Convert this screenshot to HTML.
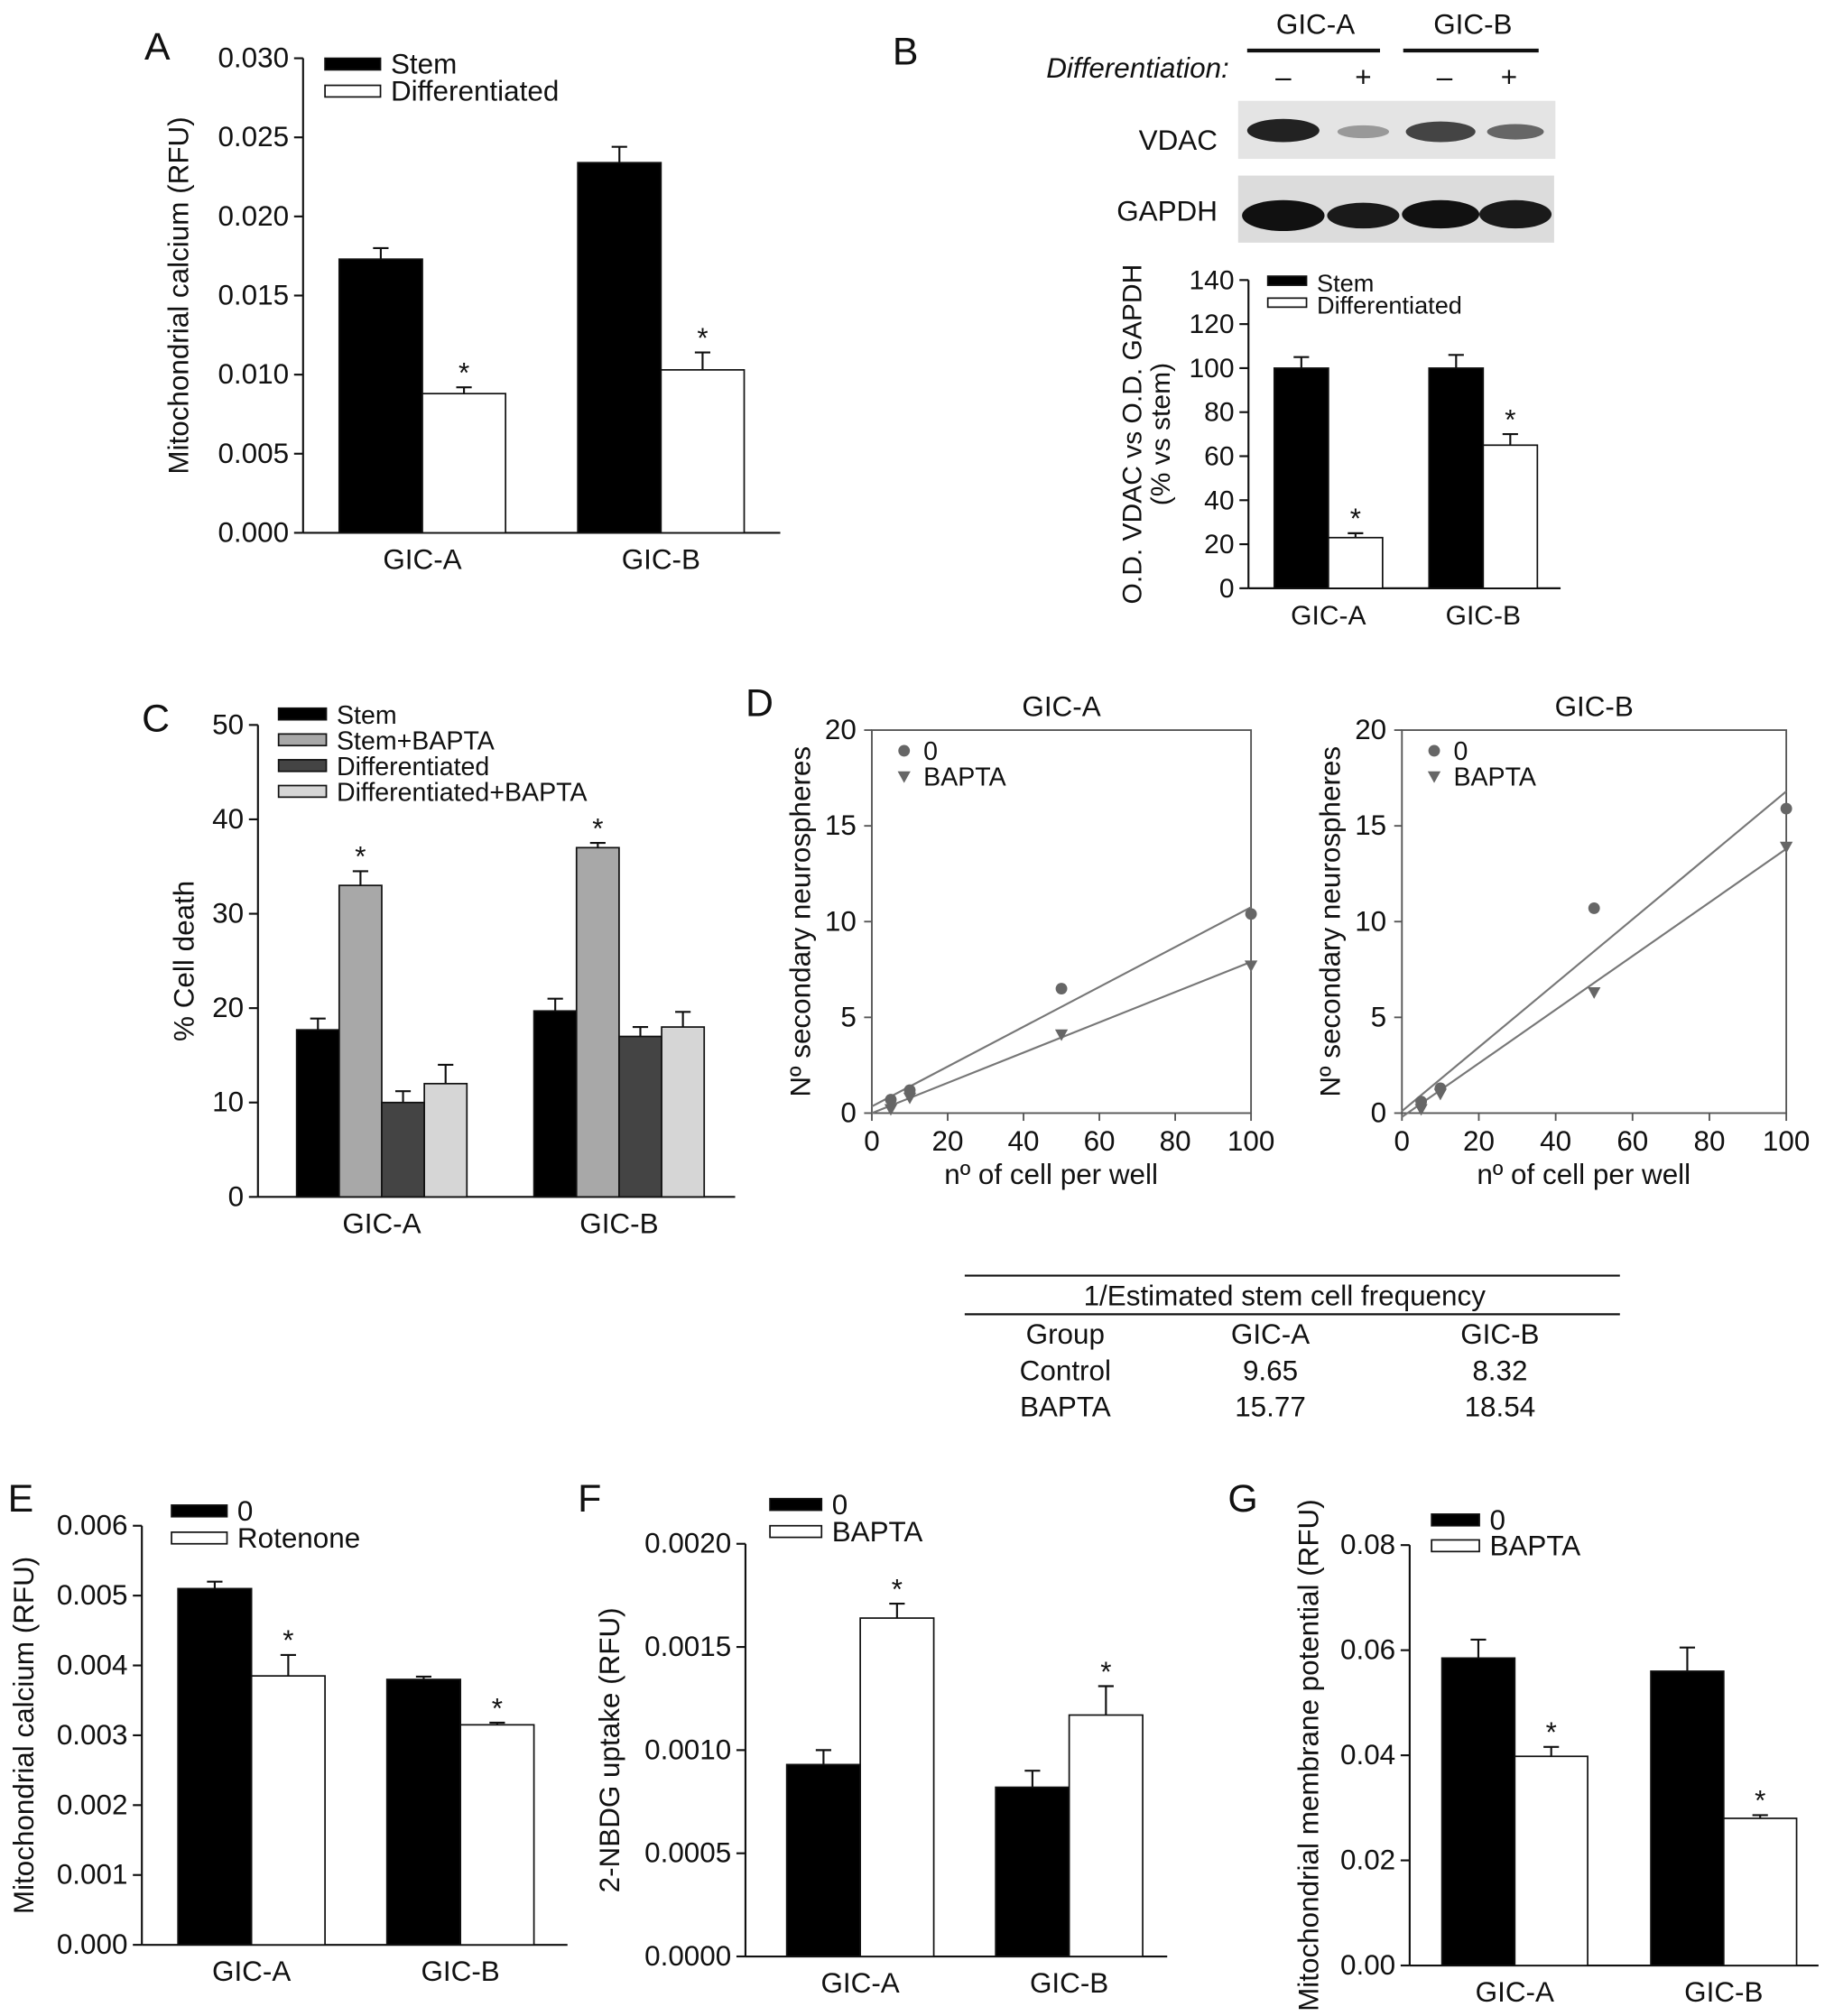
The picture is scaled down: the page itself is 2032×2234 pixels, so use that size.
<!DOCTYPE html>
<html><head><meta charset="utf-8"><style>
html,body{margin:0;padding:0;background:#fff}
svg{display:block;font-family:"Liberation Sans",Arial,sans-serif}
</style></head><body>
<svg id="fig" width="2032" height="2234" viewBox="0 0 1422 1563" xmlns="http://www.w3.org/2000/svg">
<g id="static" font-size="22" fill="#111">
<text x="112" y="46" font-size="30">A</text>
<text x="692" y="50" font-size="30">B</text>
<text x="110" y="567" font-size="30">C</text>
<text x="578" y="555" font-size="30">D</text>
<text x="6" y="1172" font-size="30">E</text>
<text x="448" y="1172" font-size="30">F</text>
<text x="952" y="1172" font-size="30">G</text>
<text x="1020" y="26" text-anchor="middle">GIC-A</text>
<line x1="967" y1="39" x2="1070" y2="39" stroke="#111" stroke-width="3"/>
<text x="1142" y="26" text-anchor="middle">GIC-B</text>
<line x1="1088" y1="39" x2="1193" y2="39" stroke="#111" stroke-width="3"/>
<text x="953" y="60" text-anchor="end" font-style="italic">Differentiation:</text>
<text x="995" y="67" text-anchor="middle">–</text>
<text x="1057" y="67" text-anchor="middle">+</text>
<text x="1120" y="67" text-anchor="middle">–</text>
<text x="1170" y="67" text-anchor="middle">+</text>
<text x="944" y="116" text-anchor="end">VDAC</text>
<text x="944" y="171" text-anchor="end">GAPDH</text>
<rect x="960" y="78" width="246" height="45" fill="#e4e4e4"/>
<rect x="960" y="136" width="245" height="52" fill="#dcdcdc"/>
<ellipse cx="995" cy="101" rx="28" ry="9" fill="#222"/>
<ellipse cx="1057" cy="102" rx="20" ry="5" fill="#999"/>
<ellipse cx="1117" cy="102" rx="27" ry="8" fill="#444"/>
<ellipse cx="1175" cy="102" rx="22" ry="6" fill="#666"/>
<ellipse cx="995" cy="167" rx="32" ry="12" fill="#111"/>
<ellipse cx="1057" cy="167" rx="28" ry="10" fill="#1a1a1a"/>
<ellipse cx="1117" cy="166" rx="30" ry="11" fill="#111"/>
<ellipse cx="1175" cy="166" rx="28" ry="11" fill="#1a1a1a"/>
<line x1="748" y1="989" x2="1256" y2="989" stroke="#111" stroke-width="1.5"/>
<line x1="748" y1="1019" x2="1256" y2="1019" stroke="#111" stroke-width="1.5"/>
<text x="996" y="1012" text-anchor="middle">1/Estimated stem cell frequency</text>
<text x="826" y="1042" text-anchor="middle">Group</text>
<text x="985" y="1042" text-anchor="middle">GIC-A</text>
<text x="1163" y="1042" text-anchor="middle">GIC-B</text>
<text x="826" y="1070" text-anchor="middle">Control</text>
<text x="985" y="1070" text-anchor="middle">9.65</text>
<text x="1163" y="1070" text-anchor="middle">8.32</text>
<text x="826" y="1098" text-anchor="middle">BAPTA</text>
<text x="985" y="1098" text-anchor="middle">15.77</text>
<text x="1163" y="1098" text-anchor="middle">18.54</text>
</g>
<g id="charts"></g>
</svg>
<script>
// Panel A
const aCats=["GIC-A","GIC-B"];
const aStem=[0.0173,0.0234];
const aDiff=[0.0088,0.0103];
const aStemErr=[0.0007,0.0010];
const aDiffErr=[0.0004,0.0011];
const aTicks=["0.000","0.005","0.010","0.015","0.020","0.025","0.030"];
// Panel B
const bCats=["GIC-A","GIC-B"];
const bStem=[100,100];
const bDiff=[23,65];
const bStemErr=[5,6];
const bDiffErr=[2,5];
const bTicks=["0","20","40","60","80","100","120","140"];
// Panel C
const cCats=["GIC-A","GIC-B"];
const cStem=[17.7,19.7];
const cStemB=[33,37];
const cDiff=[10,17];
const cDiffB=[12,18];
const cStemErr=[1.2,1.3];
const cStemBErr=[1.5,0.5];
const cDiffErr=[1.2,1.0];
const cDiffBErr=[2.0,1.6];
const cTicks=["0","10","20","30","40","50"];
// Panel D
const dX=[5,10,50,100];
const dA0=[0.7,1.2,6.5,10.4];
const dAB=[0.2,0.8,4.1,7.7];
const dB0=[0.6,1.3,10.7,15.9];
const dBB=[0.2,1.0,6.3,13.9];
const dAFit0=[0.35,10.75];
const dAFitB=[0.0,7.9];
const dBFit0=[0.1,16.8];
const dBFitB=[-0.2,13.8];
const dXTicks=["0","20","40","60","80","100"];
const dYTicks=["0","5","10","15","20"];
// Panel E
const eCats=["GIC-A","GIC-B"];
const eCtl=[0.0051,0.0038];
const eRot=[0.00385,0.00315];
const eCtlErr=[0.0001,0.00004];
const eRotErr=[0.0003,0.00003];
const eTicks=["0.000","0.001","0.002","0.003","0.004","0.005","0.006"];
// Panel F
const fCats=["GIC-A","GIC-B"];
const fCtl=[0.00093,0.00082];
const fBap=[0.00164,0.00117];
const fCtlErr=[0.00007,0.00008];
const fBapErr=[0.00007,0.00014];
const fTicks=["0.0000","0.0005","0.0010","0.0015","0.0020"];
// Panel G
const gCats=["GIC-A","GIC-B"];
const gCtl=[0.0585,0.056];
const gBap=[0.0398,0.028];
const gCtlErr=[0.0035,0.0045];
const gBapErr=[0.0018,0.0006];
const gTicks=["0.00","0.02","0.04","0.06","0.08"];

const NS="http://www.w3.org/2000/svg";
const root=document.getElementById('charts');
function mk(tag,attrs,parent,txt){const e=document.createElementNS(NS,tag);for(const k in attrs)e.setAttribute(k,attrs[k]);if(txt!==undefined)e.textContent=txt;(parent||root).appendChild(e);return e;}

function barChart(o){
  const g=mk('g',{});
  
  
  const ymax=parseFloat(o.ticks[o.ticks.length-1]);
  const y=v=>o.y0-(v/ymax)*(o.y0-o.y1);
  const fs=o.fs||22;
  const lfs=o.lfs||fs;
  const ax=mk('line',{x1:o.x0,y1:o.y1,x2:o.x0,y2:o.y0,stroke:'#111','stroke-width':1.5},g);
  
  
  const bx=mk('line',{x1:o.x0,y1:o.y0,x2:o.xEnd,y2:o.y0,stroke:'#111','stroke-width':1.5},g);
  
  
  o.ticks.forEach(t=>{
    const v=parseFloat(t),yy=y(v);
    const tl=mk('line',{x1:o.x0-7,y1:yy,x2:o.x0,y2:yy,stroke:'#111','stroke-width':1.5},g);
    
    
    const tt=mk('text',{x:o.x0-11,y:yy+7,'text-anchor':'end','font-size':fs,fill:'#111'},g,t);
    
    
  });
  o.cats.forEach((c,i)=>{
    const gx=o.groupX[i];
    o.series.forEach((s,j)=>{
      const x=gx+j*o.bw,v=s.vals[i],top=y(v);
      const r=mk('rect',{x:x,y:top,width:o.bw,height:o.y0-top,fill:s.fill,stroke:'#111','stroke-width':1.2},g);
      
      
      const et=y(v+s.err[i]),cx=x+o.bw/2;
      const e1=mk('path',{d:`M${cx},${top}V${et}M${cx-6},${et}H${cx+6}`,stroke:'#111','stroke-width':1.5,fill:'none'},g);
      
      
      if(s.star&&s.star[i]){
        const st=mk('text',{x:cx,y:et-4,'text-anchor':'middle','font-size':22,fill:'#111'},g,'*');
        
        
      }
    });
    const lx=gx+o.series.length*o.bw/2;
    const lt=mk('text',{x:lx,y:o.y0+28,'text-anchor':'middle','font-size':fs,fill:'#111'},g,c);
    
    
  });
  o.ytitle.forEach((t,k)=>{
    const tx=o.ytx+k*22,ty=(o.y0+o.y1)/2;
    const yt=mk('text',{x:tx,y:ty,'text-anchor':'middle','font-size':fs,fill:'#111',transform:`rotate(-90 ${tx} ${ty})`},g,t);
    
    
  });
  o.series.forEach((s,j)=>{
    const ly=o.legY+j*o.legDy;
    const lr=mk('rect',{x:o.legX,y:ly-5,width:o.legW,height:o.legH||9,fill:s.fill,stroke:'#111','stroke-width':1.2},g);
    
    
    const lt=mk('text',{x:o.legX+o.legW+8,y:ly+7,'font-size':lfs,fill:'#111'},g,s.label);
    
    
  });
}

barChart({name:'chart-a',x0:235,xEnd:605,y0:413,y1:45,ticks:aTicks,cats:aCats,groupX:[263,448],bw:64.5,
  series:[{key:'stem',label:'Stem',fill:'#000',vals:aStem,err:aStemErr},{key:'differentiated',label:'Differentiated',fill:'#fff',vals:aDiff,err:aDiffErr,star:[1,1]}],
  ytitle:['Mitochondrial calcium (RFU)'],ytx:146,legX:252,legY:50,legDy:21,legW:43});
barChart({name:'chart-b',x0:968,xEnd:1210,y0:456,y1:217,ticks:bTicks,cats:bCats,groupX:[988,1108],bw:42,fs:21,lfs:19,
  series:[{key:'stem',label:'Stem',fill:'#000',vals:bStem,err:bStemErr},{key:'differentiated',label:'Differentiated',fill:'#fff',vals:bDiff,err:bDiffErr,star:[1,1]}],
  ytitle:['O.D. VDAC vs O.D. GAPDH','(% vs stem)'],ytx:885,legX:983,legY:219,legDy:17,legW:30,legH:7});
barChart({name:'chart-c',x0:200,xEnd:570,y0:928,y1:562,ticks:cTicks,cats:cCats,groupX:[230,414],bw:33,lfs:20,
  series:[{key:'stem',label:'Stem',fill:'#000',vals:cStem,err:cStemErr},
  {key:'stem-bapta',label:'Stem+BAPTA',fill:'#a8a8a8',vals:cStemB,err:cStemBErr,star:[1,1]},
  {key:'differentiated',label:'Differentiated',fill:'#444',vals:cDiff,err:cDiffErr},
  {key:'differentiated-bapta',label:'Differentiated+BAPTA',fill:'#d6d6d6',vals:cDiffB,err:cDiffBErr}],
  ytitle:['% Cell death'],ytx:150,legX:216,legY:554,legDy:20,legW:37});
barChart({name:'chart-e',x0:110,xEnd:440,y0:1508,y1:1183,ticks:eTicks,cats:eCats,groupX:[138,300],bw:57,
  series:[{key:'control',label:'0',fill:'#000',vals:eCtl,err:eCtlErr},{key:'rotenone',label:'Rotenone',fill:'#fff',vals:eRot,err:eRotErr,star:[1,1]}],
  ytitle:['Mitochondrial calcium (RFU)'],ytx:26,legX:133,legY:1172,legDy:21,legW:43});
barChart({name:'chart-f',x0:578,xEnd:905,y0:1517,y1:1197,ticks:fTicks,cats:fCats,groupX:[610,772],bw:57,
  series:[{key:'control',label:'0',fill:'#000',vals:fCtl,err:fCtlErr},{key:'bapta',label:'BAPTA',fill:'#fff',vals:fBap,err:fBapErr,star:[1,1]}],
  ytitle:['2-NBDG uptake (RFU)'],ytx:480,legX:597,legY:1167,legDy:21,legW:40});
barChart({name:'chart-g',x0:1093,xEnd:1410,y0:1524,y1:1198,ticks:gTicks,cats:gCats,groupX:[1118,1280],bw:56.5,
  series:[{key:'control',label:'0',fill:'#000',vals:gCtl,err:gCtlErr},{key:'bapta',label:'BAPTA',fill:'#fff',vals:gBap,err:gBapErr,star:[1,1]}],
  ytitle:['Mitochondrial membrane potential (RFU)'],ytx:1022,legX:1110,legY:1179,legDy:20,legW:37});

function scatter(o){
  const g=mk('g',{});
  
  
  const sx=v=>o.x0+(v/100)*(o.x1-o.x0);
  const sy=v=>o.y0-(v/20)*(o.y0-o.y1);
  const fr=mk('rect',{x:o.x0,y:o.y1,width:o.x1-o.x0,height:o.y0-o.y1,fill:'none',stroke:'#555','stroke-width':1.3},g);
  
  
  const ti=mk('text',{x:(o.x0+o.x1)/2,y:o.y1-11,'text-anchor':'middle','font-size':22,fill:'#111'},g,o.title);
  
  
  dXTicks.forEach(t=>{const xx=sx(+t);
    const l=mk('line',{x1:xx,y1:o.y0,x2:xx,y2:o.y0+6,stroke:'#555','stroke-width':1.3},g);
    
    
    const tt=mk('text',{x:xx,y:o.y0+29,'text-anchor':'middle','font-size':22,fill:'#111'},g,t);
    
    });
  dYTicks.forEach(t=>{const yy=sy(+t);
    const l=mk('line',{x1:o.x0-6,y1:yy,x2:o.x0,y2:yy,stroke:'#555','stroke-width':1.3},g);
    
    
    const tt=mk('text',{x:o.x0-12,y:yy+7,'text-anchor':'end','font-size':22,fill:'#111'},g,t);
    
    });
  const xt=mk('text',{x:(o.x0+o.x1)/2-8,y:o.y0+55,'text-anchor':'middle','font-size':22,fill:'#111'},g,'nº of cell per well');
  
  
  const tx=o.x0-48,ty=(o.y0+o.y1)/2;
  const yt=mk('text',{x:tx,y:ty,'text-anchor':'middle','font-size':22,fill:'#111',transform:`rotate(-90 ${tx} ${ty})`},g,'Nº secondary neurospheres');
  
  
  [o.fit0,o.fitB].forEach(f=>{
    const fl=mk('line',{x1:sx(0),y1:sy(f[0]),x2:sx(100),y2:sy(f[1]),stroke:'#777','stroke-width':1.5},g);
    
    });
  dX.forEach((xv,i)=>{
    const c=mk('circle',{cx:sx(xv),cy:sy(o.s0[i]),r:4.5,fill:'#666'},g);
    
    
    const px=sx(xv),py=sy(o.sB[i]);
    const t=mk('path',{d:`M${px-5},${py-4}H${px+5}L${px},${py+5}Z`,fill:'#666'},g);
    
    
  });
  const lc=mk('circle',{cx:o.x0+25,cy:o.y1+16,r:4.5,fill:'#666'},g);
  
  
  const l1=mk('text',{x:o.x0+40,y:o.y1+23,'font-size':20,fill:'#111'},g,'0');
  
  
  const lx=o.x0+25,ly=o.y1+36;
  const lt=mk('path',{d:`M${lx-5},${ly-4}H${lx+5}L${lx},${ly+5}Z`,fill:'#666'},g);
  
  
  const l2=mk('text',{x:o.x0+40,y:o.y1+43,'font-size':20,fill:'#111'},g,'BAPTA');
  
  
}
scatter({name:'chart-d-gic-a',title:'GIC-A',x0:676,x1:970,y0:863,y1:566,s0:dA0,sB:dAB,fit0:dAFit0,fitB:dAFitB});
scatter({name:'chart-d-gic-b',title:'GIC-B',x0:1087,x1:1385,y0:863,y1:566,s0:dB0,sB:dBB,fit0:dBFit0,fitB:dBFitB});
</script>
</body></html>
